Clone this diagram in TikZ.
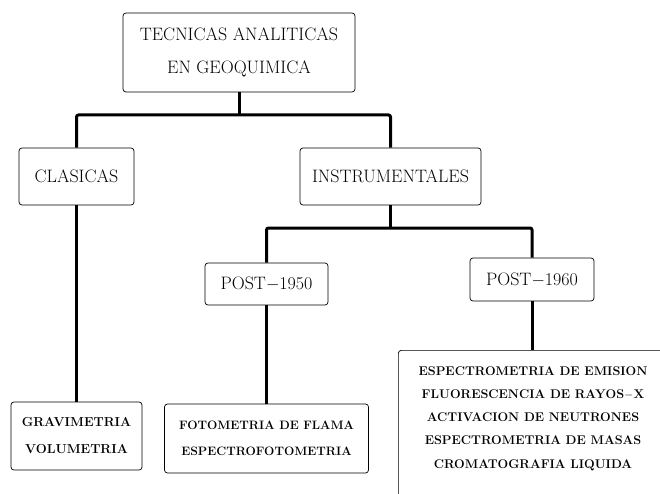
\documentclass[tikz,border=0pt]{standalone}
\usepackage{fontspec}
\begin{document}
\begin{tikzpicture}[x=1pt, y=-1pt,
	caja/.style={draw, line width=0.7pt, rounded corners=3pt, align=center, inner sep=0pt},
	rama/.style={line width=3pt, rounded corners=2pt},
	titulo/.style={font=\fontsize{18}{33}\selectfont\addfontfeatures{LetterSpace=2}},
	grande/.style={font=\fontsize{18}{21}\selectfont},
	fecha/.style={font=\fontsize{18}{21}\selectfont\addfontfeatures{LetterSpace=8}},
	hoja/.style={font=\fontsize{13}{27}\selectfont\bfseries},
	lista/.style={font=\fontsize{12.6}{23.3}\selectfont\bfseries}]
	\useasboundingbox (0,0) rectangle (660,494);
	\clip (0,0) rectangle (660,494);
	%Cajas del diagrama
	\node[caja, titulo, minimum width=232pt, minimum height=79pt] (Raiz) at (239,52.5) {TECNICAS ANALITICAS\\EN GEOQUIMICA};
	
	\node[caja, grande, minimum width=115pt, minimum height=57pt] (Clas) at (76.5,176.5) {CLASICAS};
	\node[caja, grande, minimum width=181pt, minimum height=57pt] (Inst) at (390.5,176.5) {INSTRUMENTALES};
	
	\node[caja, fecha, minimum width=123pt, minimum height=42pt] (P50) at (266.5,284) {POST$-$1950};
	\node[caja, fecha, minimum width=124pt, minimum height=43pt] (P60) at (532,279.5) {POST$-$1960};
	
	\node[caja, hoja, minimum width=131pt, minimum height=68pt] (Grav) at (76.5,436) {GRAVIMETRIA\\VOLUMETRIA};
	\node[caja, hoja, font=\fontsize{12.2}{26}\selectfont\bfseries, minimum width=204pt, minimum height=69pt] (Foto) at (266.5,438.5) {FOTOMETRIA DE FLAMA\\ESPECTROFOTOMETRIA};
	\node[caja, anchor=north west, minimum width=290pt, minimum height=170pt] (Espec) at (398,350) {};
	\node[lista, align=center, inner sep=0pt] (EspecTxt) at (533,418.5) {ESPECTROMETRIA DE EMISION\\FLUORESCENCIA DE RAYOS$-$X\\ACTIVACION DE NEUTRONES\\ESPECTROMETRIA DE MASAS\\CROMATOGRAFIA LIQUIDA};
	
	%Ramas
	\coordinate (J1) at (239,115);
	\coordinate (J2) at (390.5,228);
	\draw[rama] (Raiz.south) -- (J1);
	\draw[rama] (Clas.north) |- (J1) -| (Inst.north);
	\draw[rama] (Inst.south) -- (J2);
	\draw[rama] (P50.north) |- (J2) -| (P60.north);
	
	\draw[rama] (Clas.south) -- (Grav.north);
	\draw[rama] (P50.south) -- (Foto.north);
	\draw[rama] (P60.south) -- (P60.south |- Espec.north);
\end{tikzpicture}
\end{document}
